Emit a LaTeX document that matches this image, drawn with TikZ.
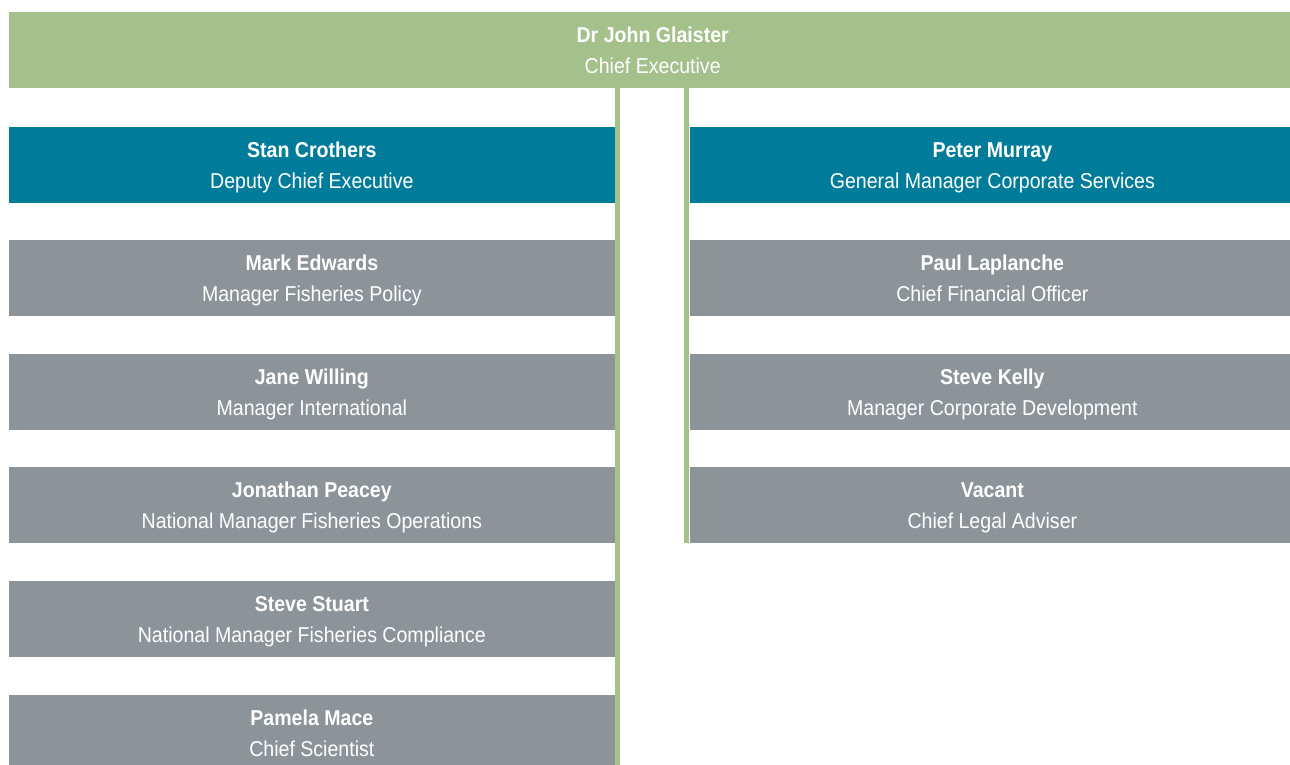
\documentclass[tikz,border=0pt]{standalone}
\usepackage{fontspec}
\setmainfont{Liberation Sans}[FakeStretch=0.91]
\definecolor{leafgreen}{HTML}{A4C08B}
\definecolor{seateal}{HTML}{007C9B}
\definecolor{slategrey}{HTML}{8D9499}
\begin{document}
\begin{tikzpicture}[x=1pt,y=-1pt,
  box/.style={rectangle, anchor=north west, inner sep=0pt, minimum height=76pt,
    text height=50pt, text depth=4pt,
    text=white, align=center, font=\fontsize{21.5}{31}\selectfont},
  headbox/.style={box, fill=leafgreen, minimum width=1287pt},
  leftbox/.style={box, minimum width=605.3pt},
  rightbox/.style={box, minimum width=605.7pt},
  lead/.style={fill=seateal},
  staff/.style={fill=slategrey},
  link/.style={draw=leafgreen, line width=5pt}]
\clip (0,0) rectangle (1290,764);

% chief executive
\node[headbox] (ceo) at (9,12) {\textbf{Dr John Glaister}\\Chief Executive};

% left column
\node[leftbox,lead]  (dce) at (9,127) {\textbf{Stan Crothers}\\Deputy Chief Executive};
\node[leftbox,staff] (mfp) at (9,240) {\textbf{Mark Edwards}\\Manager Fisheries Policy};
\node[leftbox,staff] (mi)  at (9,354) {\textbf{Jane Willing}\\Manager International};
\node[leftbox,staff] (nmo) at (9,467) {\textbf{Jonathan Peacey}\\National Manager Fisheries Operations};
\node[leftbox,staff] (nmc) at (9,581) {\textbf{Steve Stuart}\\National Manager Fisheries Compliance};
\node[leftbox,staff] (cs)  at (9,695) {\textbf{Pamela Mace}\\Chief Scientist};

% right column
\node[rightbox,lead]  (gmcs) at (689.3,127) {\textbf{Peter Murray}\\General Manager Corporate Services};
\node[rightbox,staff] (cfo)  at (689.3,240) {\textbf{Paul Laplanche}\\Chief Financial Officer};
\node[rightbox,staff] (mcd)  at (689.3,354) {\textbf{Steve Kelly}\\Manager Corporate Development};
\node[rightbox,staff] (cla)  at (689.3,467) {\textbf{Vacant}\\Chief Legal Adviser};

% reporting lines
\draw[link] ([xshift=2.5pt]dce.north east |- ceo.south) -- ([xshift=2.5pt]cs.south east);
\draw[link] ([xshift=-2.5pt]gmcs.north west |- ceo.south) -- ([xshift=-2.5pt]cla.south west);
\end{tikzpicture}
\end{document}
